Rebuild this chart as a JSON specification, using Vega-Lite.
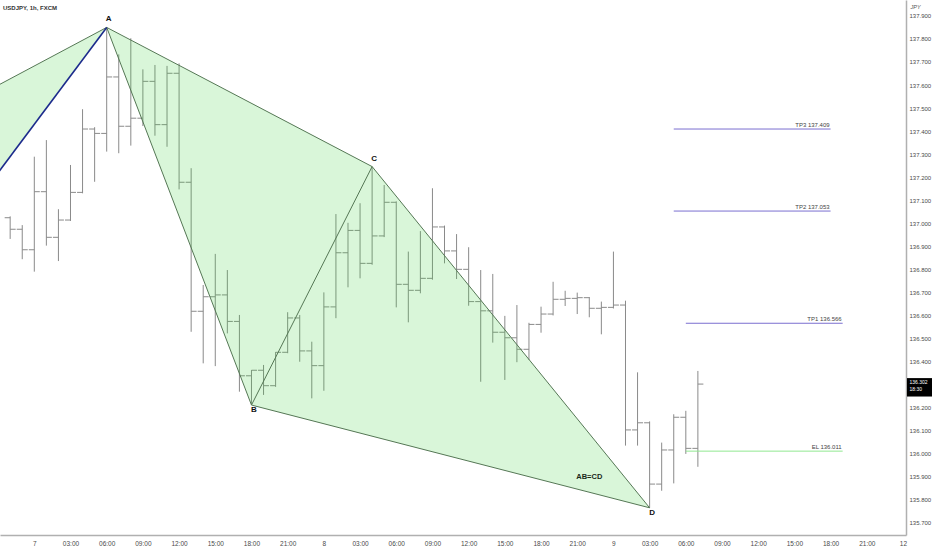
{
  "$schema": "https://vega.github.io/schema/vega-lite/v6.json",
  "width": 906,
  "height": 535,
  "autosize": {"type": "none"},
  "padding": {"left": 0, "top": 0, "right": 26, "bottom": 15},
  "background": "white",
  "config": {
    "view": {"stroke": null},
    "font": "Liberation Sans",
    "axis": {"grid": false, "labelOverlap": false, "labelFlush": false, "ticks": false, "tickCount": 200}
  },
  "title": {"text": "USDJPY, 1h, FXCM", "anchor": "start", "frame": "group", "offset": -11, "fontSize": 6, "fontWeight": "bold", "color": "#333333", "dx": 3},
  "datasets": {
    "bars": [
      {"t": -2, "open": 137.024, "high": 137.030, "low": 136.932, "close": 136.974},
      {"t": -1, "open": 136.974, "high": 136.992, "low": 136.844, "close": 136.885},
      {"t": 0, "open": 136.885, "high": 137.289, "low": 136.790, "close": 137.137},
      {"t": 1, "open": 137.137, "high": 137.361, "low": 136.903, "close": 136.939},
      {"t": 2, "open": 136.939, "high": 137.061, "low": 136.836, "close": 137.014},
      {"t": 3, "open": 137.014, "high": 137.253, "low": 137.010, "close": 137.134},
      {"t": 4, "open": 137.134, "high": 137.495, "low": 137.130, "close": 137.409},
      {"t": 5, "open": 137.409, "high": 137.417, "low": 137.180, "close": 137.390},
      {"t": 6, "open": 137.390, "high": 137.850, "low": 137.311, "close": 137.635},
      {"t": 7, "open": 137.635, "high": 137.733, "low": 137.304, "close": 137.421},
      {"t": 8, "open": 137.421, "high": 137.803, "low": 137.337, "close": 137.456},
      {"t": 9, "open": 137.456, "high": 137.668, "low": 137.422, "close": 137.616},
      {"t": 10, "open": 137.616, "high": 137.687, "low": 137.380, "close": 137.428},
      {"t": 11, "open": 137.428, "high": 137.683, "low": 137.332, "close": 137.651},
      {"t": 12, "open": 137.651, "high": 137.694, "low": 137.147, "close": 137.178},
      {"t": 13, "open": 137.178, "high": 137.239, "low": 136.529, "close": 136.618},
      {"t": 14, "open": 136.618, "high": 136.732, "low": 136.392, "close": 136.681},
      {"t": 15, "open": 136.681, "high": 136.867, "low": 136.380, "close": 136.689},
      {"t": 16, "open": 136.689, "high": 136.797, "low": 136.522, "close": 136.574},
      {"t": 17, "open": 136.574, "high": 136.602, "low": 136.269, "close": 136.338},
      {"t": 18, "open": 136.338, "high": 136.363, "low": 136.211, "close": 136.362},
      {"t": 19, "open": 136.362, "high": 136.385, "low": 136.255, "close": 136.295},
      {"t": 20, "open": 136.295, "high": 136.441, "low": 136.290, "close": 136.440},
      {"t": 21, "open": 136.440, "high": 136.614, "low": 136.436, "close": 136.589},
      {"t": 22, "open": 136.589, "high": 136.602, "low": 136.399, "close": 136.446},
      {"t": 23, "open": 136.446, "high": 136.486, "low": 136.240, "close": 136.382},
      {"t": 24, "open": 136.382, "high": 136.700, "low": 136.273, "close": 136.637},
      {"t": 25, "open": 136.637, "high": 137.040, "low": 136.588, "close": 136.872},
      {"t": 26, "open": 136.872, "high": 137.002, "low": 136.722, "close": 136.969},
      {"t": 27, "open": 136.969, "high": 137.087, "low": 136.761, "close": 136.826},
      {"t": 28, "open": 136.826, "high": 137.246, "low": 136.820, "close": 136.945},
      {"t": 29, "open": 136.945, "high": 137.166, "low": 136.940, "close": 137.091},
      {"t": 30, "open": 137.091, "high": 137.095, "low": 136.635, "close": 136.735},
      {"t": 31, "open": 136.735, "high": 136.877, "low": 136.570, "close": 136.709},
      {"t": 32, "open": 136.709, "high": 136.966, "low": 136.696, "close": 136.761},
      {"t": 33, "open": 136.761, "high": 137.152, "low": 136.755, "close": 136.984},
      {"t": 34, "open": 136.984, "high": 136.990, "low": 136.826, "close": 136.880},
      {"t": 35, "open": 136.880, "high": 136.953, "low": 136.758, "close": 136.800},
      {"t": 36, "open": 136.800, "high": 136.896, "low": 136.642, "close": 136.660},
      {"t": 37, "open": 136.660, "high": 136.797, "low": 136.312, "close": 136.620},
      {"t": 38, "open": 136.620, "high": 136.780, "low": 136.482, "close": 136.527},
      {"t": 39, "open": 136.527, "high": 136.598, "low": 136.320, "close": 136.503},
      {"t": 40, "open": 136.503, "high": 136.645, "low": 136.397, "close": 136.453},
      {"t": 41, "open": 136.453, "high": 136.568, "low": 136.407, "close": 136.561},
      {"t": 42, "open": 136.561, "high": 136.638, "low": 136.525, "close": 136.606},
      {"t": 43, "open": 136.606, "high": 136.746, "low": 136.600, "close": 136.670},
      {"t": 44, "open": 136.670, "high": 136.707, "low": 136.641, "close": 136.674},
      {"t": 45, "open": 136.674, "high": 136.699, "low": 136.606, "close": 136.677},
      {"t": 46, "open": 136.677, "high": 136.680, "low": 136.592, "close": 136.631},
      {"t": 47, "open": 136.631, "high": 136.660, "low": 136.518, "close": 136.635},
      {"t": 48, "open": 136.635, "high": 136.877, "low": 136.630, "close": 136.645},
      {"t": 49, "open": 136.645, "high": 136.664, "low": 136.035, "close": 136.103},
      {"t": 50, "open": 136.103, "high": 136.353, "low": 136.035, "close": 136.134},
      {"t": 51, "open": 136.134, "high": 136.140, "low": 135.765, "close": 135.868},
      {"t": 52, "open": 135.868, "high": 136.048, "low": 135.839, "close": 136.016},
      {"t": 53, "open": 136.016, "high": 136.171, "low": 135.871, "close": 136.158},
      {"t": 54, "open": 136.158, "high": 136.186, "low": 135.999, "close": 136.023},
      {"t": 55, "open": 136.023, "high": 136.359, "low": 135.943, "close": 136.302}
    ],
    "tri": [
      {"tri": "XA", "t": -3, "p": 137.220, "p2": 137.599},
      {"tri": "XA", "t": 6, "p": 137.850, "p2": 137.850},
      {"tri": "ABC", "t": 6, "p": 137.850, "p2": 137.850},
      {"tri": "ABC", "t": 18, "p": 136.211, "p2": 137.521},
      {"tri": "ABC", "t": 28, "p": 137.246, "p2": 137.246},
      {"tri": "BCD", "t": 18, "p": 136.211, "p2": 136.211},
      {"tri": "BCD", "t": 28, "p": 136.076, "p2": 137.246},
      {"tri": "BCD", "t": 51, "p": 135.765, "p2": 135.765}
    ],
    "edges": [
      {"seg": "XA", "kind": "edge", "t": -3, "p": 137.599},
      {"seg": "XA", "kind": "edge", "t": 6, "p": 137.850},
      {"seg": "AB", "kind": "edge", "t": 6, "p": 137.850},
      {"seg": "AB", "kind": "edge", "t": 18, "p": 136.211},
      {"seg": "AC", "kind": "edge", "t": 6, "p": 137.850},
      {"seg": "AC", "kind": "edge", "t": 28, "p": 137.246},
      {"seg": "BC", "kind": "edge", "t": 18, "p": 136.211},
      {"seg": "BC", "kind": "edge", "t": 28, "p": 137.246},
      {"seg": "CD", "kind": "edge", "t": 28, "p": 137.246},
      {"seg": "CD", "kind": "edge", "t": 51, "p": 135.765},
      {"seg": "BD", "kind": "edge", "t": 18, "p": 136.211},
      {"seg": "BD", "kind": "edge", "t": 51, "p": 135.765},
      {"seg": "XAblue", "kind": "blue", "t": -3, "p": 137.220},
      {"seg": "XAblue", "kind": "blue", "t": 6, "p": 137.850}
    ],
    "levels": [
      {"name": "TP3", "label": "TP3  137.409", "p": 137.409, "t": 53, "t2": 66},
      {"name": "TP2", "label": "TP2  137.053", "p": 137.053, "t": 53, "t2": 66},
      {"name": "TP1", "label": "TP1 136.566", "p": 136.566, "t": 54, "t2": 67},
      {"name": "EL", "label": "EL 136.011", "p": 136.011, "t": 54, "t2": 67}
    ],
    "points": [
      {"label": "A", "t": 6, "p": 137.850},
      {"label": "B", "t": 18, "p": 136.211},
      {"label": "C", "t": 28, "p": 137.246},
      {"label": "D", "t": 51, "p": 135.765},
      {"label": "AB=CD", "t": 46, "p": 135.899}
    ],
    "last": [
      {"p": 136.302, "price": "136.302", "countdown": "18:30"}
    ]
  },
  "layer": [
    {
      "data": {"name": "bars"},
      "mark": {"type": "rule", "color": "#8a8a8a", "strokeWidth": 1, "clip": true},
      "encoding": {
        "x": {
          "field": "t", "type": "quantitative",
          "scale": {"domain": [-2.843, 72.25], "nice": false, "zero": false},
          "axis": {
            "title": null,
            "values": [0, 3, 6, 9, 12, 15, 18, 21, 24, 27, 30, 33, 36, 39, 42, 45, 48, 51, 54, 57, 60, 63, 66, 69, 72],
            "tickCount": 200,
            "labelExpr": "datum.value == 0 ? '7' : datum.value == 24 ? '8' : datum.value == 48 ? '9' : datum.value == 72 ? '12' : ((((datum.value % 24) + 24) % 24) < 10 ? '0' : '') + (((datum.value % 24) + 24) % 24) + ':00'",
            "labelFontSize": 6.5, "labelColor": "#4a4a4a", "ticks": false, "labelPadding": 5,
            "domainColor": "#b0b0b0", "domainWidth": 1.5, "labelOverlap": false, "labelFlush": false, "labelBound": false, "grid": false
          }
        },
        "y": {
          "field": "low", "type": "quantitative",
          "scale": {"domain": [135.647, 137.969], "nice": false, "zero": false},
          "axis": {
            "orient": "right", "title": "JPY", "titleAngle": 0, "titleX": 4, "titleY": 6, "titleAlign": "left", "titleBaseline": "middle",
            "titleFontSize": 5.5, "titleFontStyle": "italic", "titleFontWeight": "normal", "titleColor": "#555555",
            "values": [135.7, 135.8, 135.9, 136.0, 136.1, 136.2, 136.4, 136.5, 136.6, 136.7, 136.8, 136.9, 137.0, 137.1, 137.2, 137.3, 137.4, 137.5, 137.6, 137.7, 137.8, 137.9],
            "tickCount": 200,
            "format": ".3f", "labelFontSize": 6, "labelColor": "#4a4a4a", "ticks": false, "labelPadding": 3,
            "domainColor": "#b0b0b0", "domainWidth": 1.5, "labelOverlap": false, "labelFlush": false, "grid": false
          }
        },
        "y2": {"field": "high"}
      }
    },
    {
      "data": {"name": "bars"},
      "mark": {"type": "rule", "color": "#8a8a8a", "strokeWidth": 1, "xOffset": -5.5, "clip": true},
      "encoding": {
        "x": {"field": "t", "type": "quantitative"},
        "x2": {"field": "t"},
        "y": {"field": "open", "type": "quantitative"}
      }
    },
    {
      "data": {"name": "bars"},
      "mark": {"type": "rule", "color": "#8a8a8a", "strokeWidth": 1, "x2Offset": 5.5, "clip": true},
      "encoding": {
        "x": {"field": "t", "type": "quantitative"},
        "x2": {"field": "t"},
        "y": {"field": "close", "type": "quantitative"}
      }
    },
    {
      "data": {"name": "tri"},
      "mark": {"type": "area", "color": "#40d040", "opacity": 0.2, "clip": true},
      "encoding": {
        "x": {"field": "t", "type": "quantitative"},
        "y": {"field": "p", "type": "quantitative", "stack": null},
        "y2": {"field": "p2"},
        "detail": {"field": "tri"}
      }
    },
    {
      "data": {"name": "edges"},
      "mark": {"type": "line", "clip": true},
      "encoding": {
        "x": {"field": "t", "type": "quantitative"},
        "y": {"field": "p", "type": "quantitative"},
        "detail": {"field": "seg"},
        "color": {"field": "kind", "type": "nominal", "scale": {"domain": ["edge", "blue"], "range": ["#557755", "#1c2b8c"]}, "legend": null},
        "strokeWidth": {"condition": {"test": "datum.kind == 'blue'", "value": 1.6}, "value": 1}
      }
    },
    {
      "data": {"name": "levels"},
      "mark": {"type": "rule", "strokeWidth": 1},
      "encoding": {
        "x": {"field": "t", "type": "quantitative"},
        "x2": {"field": "t2"},
        "y": {"field": "p", "type": "quantitative"},
        "stroke": {"field": "name", "type": "nominal", "scale": {"domain": ["TP3", "TP2", "TP1", "EL"], "range": ["#7b6fd0", "#7b6fd0", "#7b6fd0", "#90e890"]}, "legend": null}
      }
    },
    {
      "data": {"name": "levels"},
      "mark": {"type": "text", "align": "right", "baseline": "bottom", "dy": -1.5, "dx": -1, "fontSize": 6, "color": "#444444"},
      "encoding": {
        "x": {"field": "t2", "type": "quantitative"},
        "y": {"field": "p", "type": "quantitative"},
        "text": {"field": "label"}
      }
    },
    {
      "data": {"name": "points"},
      "transform": [{"filter": "datum.label == 'A' || datum.label == 'C'"}],
      "mark": {"type": "text", "baseline": "bottom", "dy": -4, "dx": 2, "fontSize": 8, "fontWeight": "bold", "color": "#111111"},
      "encoding": {
        "x": {"field": "t", "type": "quantitative"},
        "y": {"field": "p", "type": "quantitative"},
        "text": {"field": "label"}
      }
    },
    {
      "data": {"name": "points"},
      "transform": [{"filter": "datum.label == 'B' || datum.label == 'D'"}],
      "mark": {"type": "text", "baseline": "top", "dy": 1, "dx": 2.5, "fontSize": 8, "fontWeight": "bold", "color": "#111111"},
      "encoding": {
        "x": {"field": "t", "type": "quantitative"},
        "y": {"field": "p", "type": "quantitative"},
        "text": {"field": "label"}
      }
    },
    {
      "data": {"name": "points"},
      "transform": [{"filter": "datum.label == 'AB=CD'"}],
      "mark": {"type": "text", "baseline": "middle", "fontSize": 7.5, "fontWeight": "bold", "color": "#1a2a1a"},
      "encoding": {
        "x": {"field": "t", "type": "quantitative"},
        "y": {"field": "p", "type": "quantitative"},
        "text": {"field": "label"}
      }
    },
    {
      "data": {"name": "last"},
      "mark": {"type": "rect", "color": "#000000", "clip": false},
      "encoding": {
        "x": {"datum": 72.33, "type": "quantitative"},
        "x2": {"datum": 74.7},
        "y": {"datum": 136.328, "type": "quantitative"},
        "y2": {"datum": 136.248}
      }
    },
    {
      "data": {"name": "last"},
      "mark": {"type": "text", "align": "left", "baseline": "middle", "dx": 3.5, "dy": -2.5, "fontSize": 5, "color": "#ffffff", "clip": false},
      "encoding": {
        "x": {"datum": 72.25, "type": "quantitative"},
        "y": {"field": "p", "type": "quantitative"},
        "text": {"field": "price"}
      }
    },
    {
      "data": {"name": "last"},
      "mark": {"type": "text", "align": "left", "baseline": "middle", "dx": 3.5, "dy": 5, "fontSize": 5, "color": "#ffffff", "clip": false},
      "encoding": {
        "x": {"datum": 72.25, "type": "quantitative"},
        "y": {"field": "p", "type": "quantitative"},
        "text": {"field": "countdown"}
      }
    }
  ]
}
